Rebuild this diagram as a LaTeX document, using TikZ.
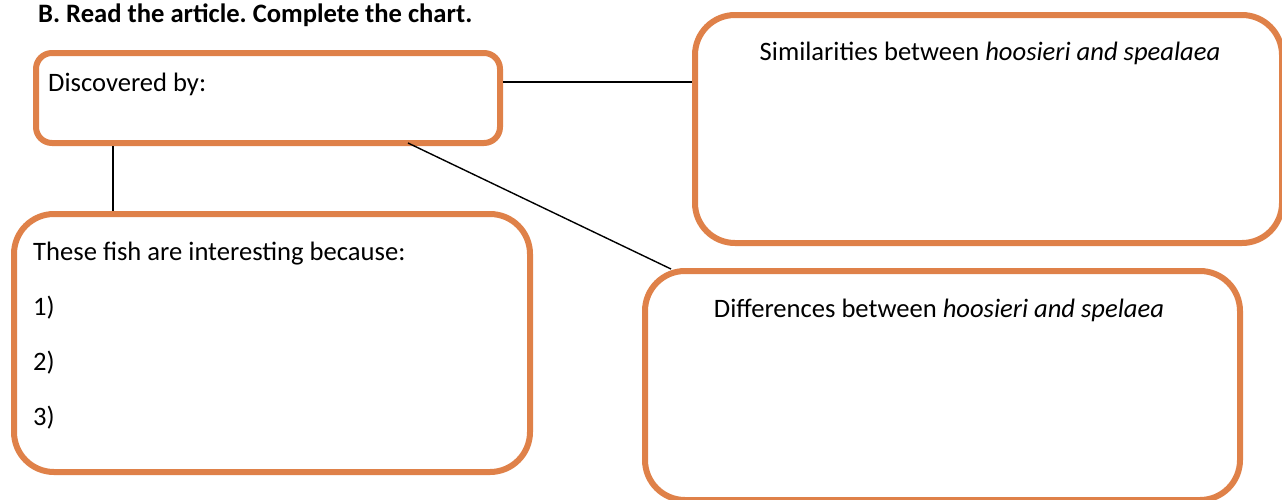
\documentclass[tikz,border=0pt]{standalone}
\usepackage{fontspec}
\setmainfont{Carlito}
\usetikzlibrary{calc}
\frenchspacing
\definecolor{boxorange}{HTML}{DF8149}
\tikzset{
  box/.style={draw=boxorange, line width=6pt, rectangle, rounded corners=#1, inner sep=0pt, anchor=north west},
  txt/.style={inner sep=0pt, font=\fontsize{26.6}{30}\selectfont},
  link/.style={draw=black, line width=1.4pt}
}
\begin{document}
\begin{tikzpicture}[x=1pt, y=-1pt]
\useasboundingbox (0,0) rectangle (1282,499);
% boxes
\node[box=16pt, minimum width=464pt, minimum height=90pt] (disc) at (33,50) {};
\node[box=40pt, minimum width=587pt, minimum height=228pt] (sim) at (692,12) {};
\node[box=40pt, minimum width=516pt, minimum height=258pt] (fish) at (11,211) {};
\node[box=40pt, minimum width=595pt, minimum height=229pt] (diff) at (642,268) {};
% texts
\node[txt, anchor=base west, font=\fontsize{26.6}{30}\selectfont\bfseries] (title) at (38,22) {B. Read the article. Complete the chart.};
\node[txt, anchor=base west] (disct) at (48,91) {Discovered by:};
\node[txt, anchor=base west] (fisht) at (33,260) {These fish are interesting because:};
\node[txt, anchor=base west] (one) at (33,315) {1)};
\node[txt, anchor=base west] (two) at (33,370) {2)};
\node[txt, anchor=base west] (three) at (33,425) {3)};
\node[txt, anchor=base] (simt) at (990,60) {Similarities between \textit{hoosieri and spealaea}};
\node[txt, anchor=base] (difft) at (939,317) {Differences between \textit{hoosieri and spelaea}};
% connectors
\coordinate (dr) at (disc.east |- 0,82);
\coordinate (sl) at (sim.west |- 0,82);
\draw[link] (dr) -- (sl);
\coordinate (db) at (disc.south -| 113,0);
\coordinate (ft) at (fish.north -| 113,0);
\draw[link] (db) -- (ft);
\coordinate (dd) at (408,143);
\coordinate (de) at (671,269);
\draw[link] (dd) -- (de);
\end{tikzpicture}
\end{document}
